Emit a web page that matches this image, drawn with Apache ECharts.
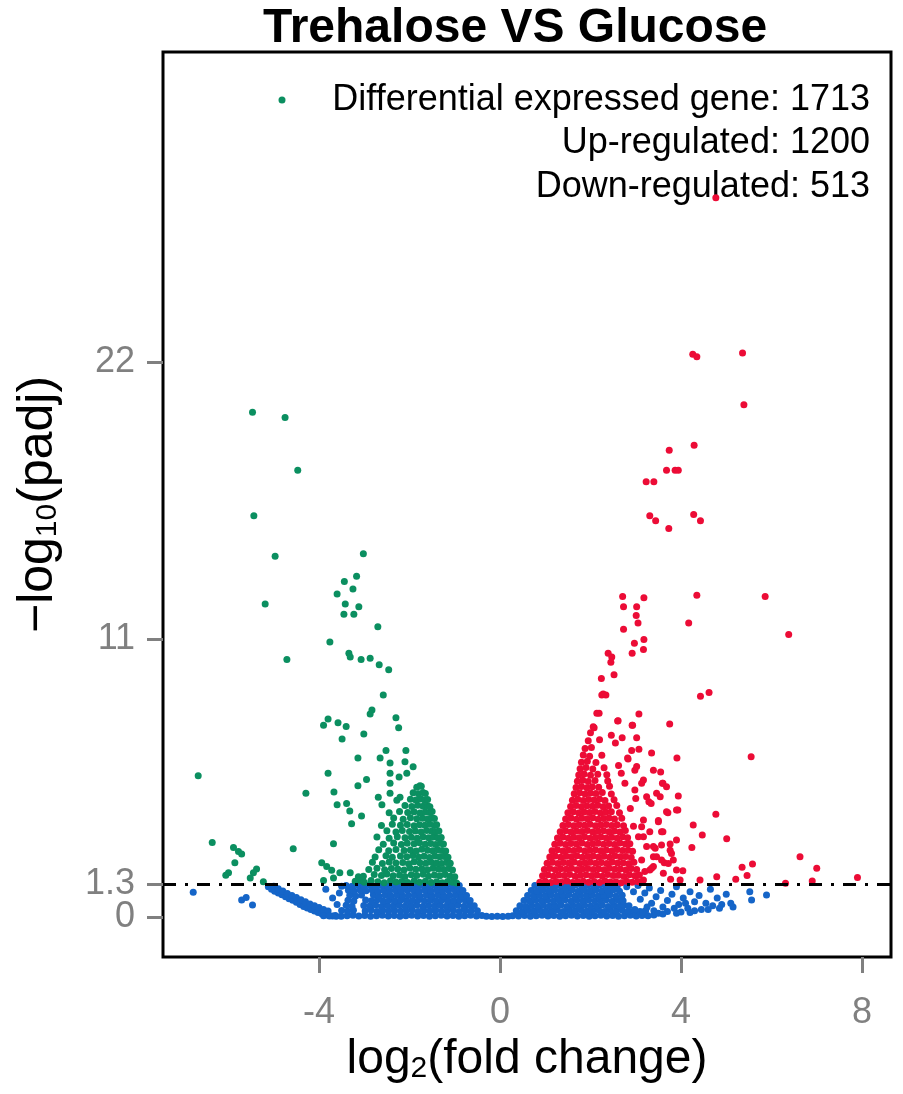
<!DOCTYPE html>
<html>
<head>
    <meta charset="UTF-8">
    <title>Trehalose VS Glucose</title>
    <script src="https://cdn.jsdelivr.net/npm/echarts/dist/echarts.min.js"></script>
    <style>
        html, body { margin: 0; padding: 0; background: #fff; }
        #volcano { width: 903px; height: 1094px; }
    </style>
</head>
<body>
    <div id="volcano"></div>

    <script>
        // 坐标轴刻度
        var xTicks = [-4, 0, 4, 8];
        var yTicks = [1.3, 11, 22];
        var yZeroTick = [0];
        var padjCut = 1.3;

        // 图例文字与计数
        var summaryLabels = ['Differential expressed gene', 'Up-regulated', 'Down-regulated'];
        var summaryCounts = [1713, 1200, 513];

        // 下调基因 (绿色) [log2FC, -log10(padj)]
        var downGenes = [
            [-5.47,20.0],[-4.75,19.8],[-4.47,17.7],[-5.44,15.9],[-4.97,14.3],[-3.02,14.4],[-3.17,13.5],[-3.44,13.3],
            [-3.25,13.0],[-3.60,12.8],[-5.19,12.4],[-3.42,12.4],[-3.12,12.3],[-3.45,12.0],[-3.23,12.0],[-2.70,11.5],
            [-3.76,10.9],[-3.34,10.45],[-4.71,10.2],[-3.31,10.3],[-3.07,10.2],[-2.87,10.25],[-2.67,10.0],[-2.46,9.8],
            [-2.58,8.8],[-2.83,8.2],[-2.87,8.05],[-3.80,7.85],[-3.90,7.6],[-3.58,7.7],[-3.40,7.55],[-2.30,7.9],
            [-2.24,7.5],[-3.01,7.25],[-3.49,7.05],[-3.14,6.3],[-2.65,6.3],[-2.52,6.6],[-2.08,6.6],[-2.43,6.1],
            [-2.10,6.15],[-1.92,5.95],[-6.67,5.6],[-3.80,5.7],[-2.43,5.7],[-2.23,5.55],[-2.06,5.7],[-2.95,5.45],
            [-3.14,5.2],[-2.43,5.3],[-1.77,5.2],[-4.29,4.9],[-3.67,4.95],[-2.69,4.75],[-2.43,4.9],[-2.21,4.75],
            [-3.60,4.45],[-3.39,4.5],[-3.32,4.2],[-2.61,4.45],[-3.06,4.0],[-3.28,3.7],[-3.68,2.9],[-4.57,2.7],
            [-6.36,2.95],[-5.89,2.75],[-5.78,2.6],[-5.71,2.5],[-5.86,2.15],[-6.0,1.75],[-6.06,1.65],[-5.38,1.9],
            [-5.45,1.75],[-5.52,1.55],[-5.23,1.4],[-3.94,2.15],[-3.83,2.0],[-3.72,1.85],[-3.54,1.75],[-3.31,1.75],
            [-3.13,1.6],[-3.90,1.45],[-3.68,1.55],[-3.09,1.45],
            [-3.2,1.42],[-3.0,1.38],[-2.85,1.45],[-2.7,1.4],[-2.56,1.36],[-2.42,1.44],[-2.3,1.39],[-2.17,1.41],
            [-2.04,1.37],[-1.9,1.43],[-1.78,1.38],[-1.65,1.42],[-1.52,1.37],[-1.4,1.4],[-1.28,1.36],[-1.16,1.41],
            [-1.05,1.38],[-0.96,1.35],
            [-3.02,1.62],[-2.78,1.68],[-2.62,1.64],[-2.5,1.7],[-2.36,1.63],[-2.22,1.66],[-2.1,1.61],[-1.96,1.67],
            [-1.84,1.64],[-1.7,1.69],[-1.58,1.62],[-1.45,1.66],[-1.33,1.63],[-1.21,1.68],[-1.1,1.62],[-1.0,1.6],
            [-2.9,1.88],[-2.72,1.93],[-2.55,1.87],[-2.4,1.92],[-2.26,1.9],[-2.12,1.86],[-1.99,1.94],[-1.86,1.89],
            [-1.73,1.91],[-1.6,1.87],[-1.48,1.93],[-1.36,1.9],[-1.24,1.88],[-1.13,1.92],[-1.05,1.86],
            [-2.82,2.17],[-2.6,2.12],[-2.45,2.18],[-2.3,2.14],[-2.15,2.16],[-2.02,2.11],[-1.9,2.19],[-1.77,2.15],
            [-1.64,2.13],[-1.52,2.17],[-1.4,2.14],[-1.29,2.12],[-1.18,2.16],[-1.1,2.13],
            [-2.76,2.38],[-2.52,2.43],[-2.38,2.37],[-2.2,2.42],[-2.06,2.39],[-1.93,2.44],[-1.8,2.38],[-1.68,2.41],
            [-1.56,2.36],[-1.44,2.42],[-1.33,2.39],[-1.23,2.4],[-1.15,2.37],
            [-2.68,2.67],[-2.46,2.63],[-2.3,2.68],[-2.12,2.64],[-1.98,2.66],[-1.85,2.62],[-1.73,2.69],[-1.6,2.65],
            [-1.49,2.63],[-1.38,2.67],[-1.28,2.64],[-1.2,2.62],
            [-2.58,2.88],[-2.35,2.93],[-2.18,2.87],[-2.05,2.92],[-1.9,2.9],[-1.78,2.94],[-1.65,2.88],[-1.53,2.91],
            [-1.42,2.87],[-1.32,2.92],[-1.25,2.89],
            [-2.72,3.17],[-2.45,3.12],[-2.27,3.18],[-2.1,3.14],[-1.96,3.16],[-1.83,3.12],[-1.7,3.18],[-1.58,3.14],
            [-1.47,3.17],[-1.37,3.13],[-1.3,3.15],
            [-2.5,3.42],[-2.3,3.37],[-2.16,3.43],[-2.0,3.39],[-1.87,3.41],[-1.74,3.37],[-1.62,3.43],[-1.51,3.4],
            [-1.42,3.38],[-1.35,3.41],
            [-2.62,3.63],[-2.38,3.68],[-2.2,3.64],[-2.05,3.67],[-1.9,3.62],[-1.78,3.66],[-1.66,3.64],[-1.55,3.68],
            [-1.45,3.63],[-1.4,3.66],
            [-2.35,3.92],[-2.14,3.87],[-1.98,3.93],[-1.84,3.89],[-1.71,3.91],[-1.6,3.88],[-1.5,3.92],[-1.45,3.9],
            [-2.45,4.13],[-2.22,4.18],[-2.04,4.14],[-1.9,4.17],[-1.77,4.12],[-1.65,4.16],[-1.55,4.14],[-1.5,4.18],
            [-2.1,4.42],[-1.95,4.38],[-1.82,4.43],[-1.7,4.39],[-1.6,4.41],[-1.55,4.37],
            [-2.28,4.63],[-1.98,4.67],[-1.86,4.64],[-1.75,4.68],[-1.66,4.63],[-1.6,4.66],
            [-1.92,4.92],[-1.8,4.88],[-1.7,4.93],[-1.65,4.89],
            [-1.84,5.14],[-1.74,5.18]
        ];

        // 上调基因 (红色)
        var upGenes = [
            [4.77,28.5],[4.26,22.3],[4.35,22.2],[5.36,22.35],[5.39,20.3],[4.29,18.7],[3.74,18.5],[3.68,17.7],
            [3.87,17.7],[3.94,17.7],[3.23,17.25],[3.40,17.25],[3.31,15.9],[3.44,15.7],[3.73,15.4],[4.28,15.95],
            [4.43,15.7],[2.71,12.7],[3.18,12.65],[4.35,12.75],[5.86,12.7],[2.73,12.3],[3.02,12.3],[3.01,11.95],
            [3.05,11.65],[4.17,11.65],[2.73,11.4],[6.38,11.2],[3.18,11.0],[2.97,10.85],[3.17,10.6],[2.92,10.45],
            [2.39,10.45],[2.47,10.3],[2.45,10.1],[2.24,9.45],[2.52,9.6],[2.25,8.8],[2.34,8.8],[4.43,8.75],
            [4.62,8.9],[3.07,8.05],[3.75,7.65],[2.19,8.07],[2.60,7.77],[2.93,7.6],[2.08,7.5],[5.55,6.35],
            [3.35,6.5],[3.91,6.3],[3.07,6.65],[3.02,7.1],[2.82,6.3],[3.55,5.75],[3.60,5.3],[3.94,4.8],
            [4.77,4.07],[4.27,3.65],[4.47,3.25],[5.01,3.1],[4.24,2.75],[3.90,3.05],[3.50,3.77],[3.71,4.13],
            [3.93,4.24],[3.60,3.38],[6.63,2.39],[7.0,1.93],[7.90,1.57],[5.58,2.1],[5.35,1.97],[5.46,1.64],
            [5.21,1.5],[6.31,1.34],[6.90,1.43],[4.04,1.83],[3.77,1.5],[3.83,2.26],[3.63,2.15],[3.43,2.72],
            [3.76,2.65],[3.31,1.86],[3.17,1.47],
            [2.92,7.6],[2.61,7.78],[2.83,6.26],[2.98,5.82],[3.17,5.43],[2.98,5.03],[3.59,5.3],[3.54,4.77],
            [3.29,4.57],[3.68,4.17],[3.90,4.24],[3.50,3.82],[3.13,3.58],[3.57,3.38],[3.17,3.18],[3.39,2.79],
            [3.57,2.85],[3.76,2.89],[3.79,2.52],[3.57,2.26],[3.72,2.12],[3.39,2.39],[3.20,1.8],[3.39,2.0],
            [3.90,1.86],[3.13,1.4],
            [3.34,4.5],[3.24,4.77],[3.13,5.3],[3.02,5.96],[2.91,6.6],[3.39,5.82],[3.68,5.16],[3.46,4.9],
            [3.17,3.84],[3.31,3.38],[3.06,3.18],[3.24,2.79],[3.46,2.39],[3.13,2.26],[3.35,1.93],[3.61,1.73],
            [3.98,1.47],[4.42,1.47],[4.79,1.6],[2.88,4.3],[2.95,3.6],[3.0,4.7],[2.76,5.3],[2.68,5.7],
            [2.62,6.0],[2.55,6.9],[2.46,7.2],[2.7,7.1],
            [2.06,7.54],[2.14,8.07],[2.28,8.84],
            [0.88,1.38],[1.0,1.42],[1.12,1.37],[1.24,1.41],[1.36,1.39],[1.48,1.43],[1.6,1.37],[1.72,1.4],
            [1.84,1.42],[1.96,1.38],[2.08,1.41],[2.2,1.37],[2.32,1.43],[2.44,1.39],[2.56,1.4],[2.68,1.36],
            [2.8,1.42],[2.92,1.38],[3.04,1.41],[3.12,1.37],
            [0.94,1.63],[1.06,1.67],[1.18,1.62],[1.3,1.66],[1.42,1.64],[1.54,1.68],[1.66,1.62],[1.78,1.65],
            [1.9,1.67],[2.02,1.63],[2.14,1.66],[2.26,1.62],[2.38,1.68],[2.5,1.64],[2.62,1.65],[2.74,1.61],
            [2.86,1.67],[2.98,1.63],[3.08,1.66],
            [0.98,1.88],[1.1,1.92],[1.22,1.87],[1.34,1.91],[1.46,1.89],[1.58,1.93],[1.7,1.87],[1.82,1.9],
            [1.94,1.92],[2.06,1.88],[2.18,1.91],[2.3,1.87],[2.42,1.93],[2.54,1.89],[2.66,1.9],[2.78,1.86],
            [2.9,1.92],[3.02,1.88],
            [1.04,2.13],[1.16,2.17],[1.28,2.12],[1.4,2.16],[1.52,2.14],[1.64,2.18],[1.76,2.12],[1.88,2.15],
            [2.0,2.17],[2.12,2.13],[2.24,2.16],[2.36,2.12],[2.48,2.18],[2.6,2.14],[2.72,2.15],[2.84,2.11],[2.96,2.17],
            [1.1,2.38],[1.22,2.42],[1.34,2.37],[1.46,2.41],[1.58,2.39],[1.7,2.43],[1.82,2.37],[1.94,2.4],
            [2.06,2.42],[2.18,2.38],[2.3,2.41],[2.42,2.37],[2.54,2.43],[2.66,2.39],[2.78,2.4],[2.9,2.36],
            [1.15,2.63],[1.27,2.67],[1.39,2.62],[1.51,2.66],[1.63,2.64],[1.75,2.68],[1.87,2.62],[1.99,2.65],
            [2.11,2.67],[2.23,2.63],[2.35,2.66],[2.47,2.62],[2.59,2.68],[2.71,2.64],[2.83,2.65],[2.93,2.61],
            [1.21,2.88],[1.33,2.92],[1.45,2.87],[1.57,2.91],[1.69,2.89],[1.81,2.93],[1.93,2.87],[2.05,2.9],
            [2.17,2.92],[2.29,2.88],[2.41,2.91],[2.53,2.87],[2.65,2.93],[2.77,2.89],[2.87,2.9],
            [1.27,3.13],[1.39,3.17],[1.51,3.12],[1.63,3.16],[1.75,3.14],[1.87,3.18],[1.99,3.12],[2.11,3.15],
            [2.23,3.17],[2.35,3.13],[2.47,3.16],[2.59,3.12],[2.71,3.18],[2.82,3.14],
            [1.33,3.38],[1.45,3.42],[1.57,3.37],[1.69,3.41],[1.81,3.39],[1.93,3.43],[2.05,3.37],[2.17,3.4],
            [2.29,3.42],[2.41,3.38],[2.53,3.41],[2.65,3.37],[2.77,3.43],
            [1.39,3.63],[1.51,3.67],[1.63,3.62],[1.75,3.66],[1.87,3.64],[1.99,3.68],[2.11,3.62],[2.23,3.65],
            [2.35,3.67],[2.47,3.63],[2.59,3.66],[2.73,3.62],
            [1.45,3.88],[1.57,3.92],[1.69,3.87],[1.81,3.91],[1.93,3.89],[2.05,3.93],[2.17,3.87],[2.29,3.9],
            [2.41,3.92],[2.53,3.88],[2.69,3.91],
            [1.5,4.13],[1.62,4.17],[1.74,4.12],[1.86,4.16],[1.98,4.14],[2.1,4.18],[2.22,4.12],[2.34,4.15],
            [2.46,4.17],[2.64,4.13],
            [1.56,4.38],[1.68,4.42],[1.8,4.37],[1.92,4.41],[2.04,4.39],[2.16,4.43],[2.28,4.37],[2.4,4.4],[2.58,4.42],
            [1.6,4.63],[1.72,4.67],[1.84,4.62],[1.96,4.66],[2.08,4.64],[2.2,4.68],[2.32,4.62],[2.52,4.65],
            [1.64,4.88],[1.76,4.92],[1.88,4.87],[2.0,4.91],[2.12,4.89],[2.26,4.93],[2.46,4.87],
            [1.68,5.13],[1.8,5.17],[1.92,5.12],[2.04,5.16],[2.18,5.14],[2.42,5.18],
            [1.71,5.38],[1.83,5.42],[1.95,5.37],[2.1,5.41],[2.38,5.39],
            [1.74,5.63],[1.86,5.67],[2.0,5.62],[2.16,5.66],[2.36,5.64],
            [1.77,5.88],[1.9,5.92],[2.05,5.87],[2.3,5.91],
            [1.8,6.13],[1.93,6.17],[2.12,6.12],
            [1.84,6.42],[1.98,6.37],[2.25,6.41],
            [1.88,6.68],[2.02,6.72],[1.95,6.98],[2.2,7.02],[2.0,7.3]
        ];

        // 无显著差异 (蓝色)
        var otherGenes = [
            [-6.78,0.98],[-5.71,0.67],[-5.61,0.77],[-5.47,0.48],
            [-5.12,1.2],[-5.05,1.1],[-4.98,1.02],[-4.9,0.95],[-4.82,0.88],[-4.74,0.8],[-4.66,0.72],[-4.58,0.66],
            [-4.5,0.58],[-4.42,0.5],[-4.34,0.42],[-4.26,0.36],[-4.18,0.3],[-4.1,0.24],[-4.02,0.18],[-3.94,0.13],
            [-3.86,0.09],[-3.78,0.06],[-3.7,0.04],[-3.62,0.03],
            [-5.0,1.22],[-4.9,1.12],[-4.8,1.03],[-4.7,0.93],[-4.6,0.85],[-4.5,0.77],[-4.4,0.68],[-4.3,0.6],
            [-4.2,0.52],[-4.1,0.45],[-4.0,0.38],[-3.9,0.3],[-3.8,0.24],
            [-3.85,1.1],[-3.7,0.75],[-3.55,0.95],[-3.6,0.5],[-3.5,1.22],
            [-3.9,0.05],[-3.77,0.04],[-3.64,0.06],[-3.51,0.03],[-3.38,0.05],[-3.25,0.07],[-3.12,0.04],[-2.99,0.06],
            [-2.86,0.03],[-2.73,0.05],[-2.6,0.07],[-2.47,0.04],[-2.34,0.06],[-2.21,0.03],[-2.08,0.05],[-1.95,0.07],
            [-1.82,0.04],[-1.69,0.06],[-1.56,0.03],[-1.43,0.05],[-1.3,0.07],[-1.17,0.04],[-1.04,0.06],[-0.91,0.03],
            [-0.78,0.05],[-0.65,0.07],[-0.52,0.04],[-0.4,0.06],
            [-3.5,0.26],[-3.37,0.23],[-3.24,0.27],[-2.98,0.24],[-2.85,0.28],[-2.72,0.22],[-2.59,0.26],
            [-2.46,0.24],[-2.33,0.27],[-2.2,0.23],[-2.07,0.25],[-1.94,0.28],[-1.81,0.22],[-1.68,0.26],[-1.55,0.24],
            [-1.42,0.27],[-1.29,0.23],[-1.16,0.25],[-1.03,0.28],[-0.9,0.22],[-0.77,0.26],[-0.64,0.24],[-0.5,0.25],
            [-3.4,0.47],[-3.27,0.43],[-3.01,0.46],[-2.88,0.44],[-2.75,0.48],[-2.62,0.42],[-2.49,0.46],
            [-2.36,0.44],[-2.23,0.47],[-2.1,0.43],[-1.97,0.45],[-1.84,0.48],[-1.71,0.42],[-1.58,0.46],[-1.45,0.44],
            [-1.32,0.47],[-1.19,0.43],[-1.06,0.45],[-0.93,0.48],[-0.8,0.42],[-0.67,0.46],[-0.57,0.45],
            [-3.36,0.66],[-3.23,0.63],[-2.97,0.67],[-2.84,0.64],[-2.71,0.68],[-2.58,0.62],[-2.45,0.66],[-2.32,0.64],
            [-2.19,0.67],[-2.06,0.63],[-1.93,0.65],[-1.8,0.68],[-1.67,0.62],[-1.54,0.66],[-1.41,0.64],[-1.28,0.67],
            [-1.15,0.63],[-1.02,0.65],[-0.89,0.68],[-0.76,0.62],[-0.66,0.65],
            [-3.32,0.86],[-3.19,0.83],[-3.06,0.87],[-2.8,0.88],[-2.67,0.82],[-2.54,0.86],[-2.41,0.84],
            [-2.28,0.87],[-2.15,0.83],[-2.02,0.85],[-1.89,0.88],[-1.76,0.82],[-1.63,0.86],[-1.5,0.84],[-1.37,0.87],
            [-1.24,0.83],[-1.11,0.85],[-0.98,0.88],[-0.85,0.82],[-0.74,0.85],
            [-3.35,1.06],[-3.22,1.03],[-3.09,1.07],[-2.96,1.04],[-2.83,1.08],[-2.7,1.02],[-2.57,1.06],[-2.44,1.04],
            [-2.31,1.07],[-2.18,1.03],[-2.05,1.05],[-1.92,1.08],[-1.79,1.02],[-1.66,1.06],[-1.53,1.04],[-1.4,1.07],
            [-1.27,1.03],[-1.14,1.05],[-1.01,1.08],[-0.88,1.02],[-0.82,1.05],
            [-3.4,1.25],[-3.27,1.22],[-3.14,1.26],[-3.01,1.23],[-2.88,1.27],[-2.75,1.21],[-2.62,1.25],[-2.49,1.23],
            [-2.36,1.26],[-2.23,1.22],[-2.1,1.24],[-1.97,1.27],[-1.84,1.21],[-1.71,1.25],[-1.58,1.23],[-1.45,1.26],
            [-1.32,1.22],[-1.19,1.24],[-1.06,1.27],[-0.95,1.22],[-0.9,1.25],
            [-0.3,0.03],[-0.18,0.02],[-0.06,0.03],[0.06,0.02],[0.18,0.03],
            [0.28,0.05],[0.41,0.04],[0.54,0.06],[0.67,0.03],[0.8,0.05],[0.93,0.07],[1.06,0.04],[1.19,0.06],
            [1.32,0.03],[1.45,0.05],[1.58,0.07],[1.71,0.04],[1.84,0.06],[1.97,0.03],[2.1,0.05],[2.23,0.07],
            [2.36,0.04],[2.49,0.06],[2.62,0.03],[2.75,0.05],[2.88,0.07],[3.01,0.04],[3.14,0.06],[3.27,0.05],[3.4,0.08],
            [0.36,0.25],[0.49,0.22],[0.62,0.26],[0.75,0.24],[0.88,0.27],[1.01,0.23],[1.14,0.25],[1.27,0.28],
            [1.4,0.22],[1.53,0.26],[1.66,0.24],[1.79,0.27],[1.92,0.23],[2.05,0.25],[2.18,0.28],[2.31,0.22],
            [2.44,0.26],[2.57,0.24],[2.7,0.27],[2.83,0.23],[2.96,0.25],[3.09,0.22],[3.22,0.26],
            [0.44,0.45],[0.57,0.42],[0.7,0.46],[0.83,0.44],[0.96,0.47],[1.09,0.43],[1.22,0.45],[1.35,0.48],
            [1.48,0.42],[1.61,0.46],[1.74,0.44],[1.87,0.47],[2.0,0.43],[2.13,0.45],[2.26,0.48],[2.39,0.42],
            [2.52,0.46],[2.65,0.44],[2.74,0.47],
            [0.53,0.65],[0.66,0.62],[0.79,0.66],[0.92,0.64],[1.05,0.67],[1.18,0.63],[1.31,0.65],[1.44,0.68],
            [1.57,0.62],[1.7,0.66],[1.83,0.64],[1.96,0.67],[2.09,0.63],[2.22,0.65],[2.35,0.68],[2.48,0.62],
            [2.61,0.66],[2.72,0.64],
            [0.61,0.85],[0.74,0.82],[0.87,0.86],[1.0,0.84],[1.13,0.87],[1.26,0.83],[1.39,0.85],[1.52,0.88],
            [1.65,0.82],[1.78,0.86],[1.91,0.84],[2.04,0.87],[2.17,0.83],[2.3,0.85],[2.43,0.88],[2.56,0.82],[2.7,0.86],
            [0.69,1.05],[0.82,1.02],[0.95,1.06],[1.08,1.04],[1.21,1.07],[1.34,1.03],[1.47,1.05],[1.6,1.08],
            [1.73,1.02],[1.86,1.06],[1.99,1.04],[2.12,1.07],[2.25,1.03],[2.38,1.05],[2.51,1.08],[2.64,1.02],
            [0.77,1.25],[0.9,1.22],[1.03,1.26],[1.16,1.24],[1.29,1.27],[1.42,1.23],[1.55,1.25],[1.68,1.28],
            [1.81,1.22],[1.94,1.26],[2.07,1.24],[2.2,1.27],[2.33,1.23],[2.46,1.25],[2.59,1.22],
            [2.8,1.2],[2.95,1.0],[3.05,1.25],[3.1,0.7],[3.2,0.95],[3.3,1.15],[3.35,0.55],[3.45,0.8],
            [3.55,1.05],[3.6,0.4],[3.7,0.65],[3.8,0.9],[3.9,1.2],[3.95,0.5],[4.05,0.75],[4.15,0.35],
            [4.2,1.0],[4.3,0.6],[4.4,0.85],[4.45,0.3],[4.55,0.55],[4.65,1.1],[4.7,0.45],[4.8,0.75],
            [4.9,0.5],[5.0,0.9],[5.1,0.55],[5.15,0.4],[5.52,1.0],[5.56,0.67],[5.89,0.87],
            [2.85,0.45],[2.98,0.3],[3.15,0.2],[3.4,0.25],[3.7,0.22],[4.0,0.2],[4.3,0.25],[4.6,0.3],
            [4.85,0.35],[3.25,0.4],[3.5,0.15],[3.85,0.35],[4.1,0.55],[3.6,0.12],[3.9,0.15],[4.2,0.18]
        ];

        var DOWN_COLOR = '#0b8f60';
        var UP_COLOR = '#ec0c36';
        var OTHER_COLOR = '#1565c8';
        var FONT = 'Liberation Sans';
        var Y_MIN = -1.585, Y_MAX = 34.28;

        var chart = echarts.init(document.getElementById('volcano'));

        var tickStyle = { color: '#808080', width: 3 };
        var tickLabelStyle = { fontSize: 36, color: '#808080', fontFamily: FONT };

        var option = {
            animation: false,
            title: {
                text: 'Trehalose VS Glucose',
                left: 258,
                top: 0,
                textStyle: { fontSize: 48, fontWeight: 'bold', color: '#000', fontFamily: FONT }
            },
            grid: {
                left: 163, top: 52, right: 12, bottom: 137,
                show: true, borderColor: '#000', borderWidth: 3
            },
            xAxis: {
                type: 'value',
                min: -7.448, max: 8.641,
                axisLine: { show: false, onZero: false },
                splitLine: { show: false },
                axisTick: { show: true, customValues: xTicks, length: 16, lineStyle: tickStyle },
                axisLabel: Object.assign({ customValues: xTicks, margin: 38 }, tickLabelStyle),
                name: 'log{sub|2}(fold change)',
                nameLocation: 'middle',
                nameGap: 78,
                nameTextStyle: {
                    fontSize: 48, color: '#000', fontFamily: FONT,
                    rich: { sub: { fontSize: 30, fontFamily: FONT, color: '#000', verticalAlign: 'bottom' } }
                }
            },
            yAxis: [
                {
                    type: 'value',
                    min: Y_MIN, max: Y_MAX,
                    axisLine: { show: false, onZero: false },
                    splitLine: { show: false },
                    axisTick: { show: true, customValues: yTicks, length: 16, lineStyle: tickStyle },
                    axisLabel: Object.assign({ customValues: yTicks, margin: 28 }, tickLabelStyle),
                    name: '\u2212log{sub|10}(padj)',
                    nameLocation: 'middle',
                    nameRotate: 90,
                    nameGap: 100,
                    nameTextStyle: {
                        fontSize: 50, color: '#000', fontFamily: FONT,
                        rich: { sub: { fontSize: 30, fontFamily: FONT, color: '#000', verticalAlign: 'bottom' } }
                    }
                },
                {
                    // 0 刻度单独一根轴 (与 1.3 太近)
                    type: 'value', position: 'left',
                    min: Y_MIN, max: Y_MAX,
                    axisLine: { show: false, onZero: false },
                    splitLine: { show: false },
                    axisTick: { show: true, customValues: yZeroTick, length: 16, lineStyle: tickStyle },
                    axisLabel: Object.assign({ customValues: yZeroTick, margin: 28 }, tickLabelStyle)
                }
            ],
            graphic: [
                { type: 'circle', shape: { cx: 282, cy: 100, r: 3.5 }, style: { fill: DOWN_COLOR } },
                { type: 'text', x: 870, y: 100, style: { text: summaryLabels[0] + ': ' + summaryCounts[0], align: 'right', verticalAlign: 'middle', fontSize: 36, fontFamily: FONT, fill: '#000' } },
                { type: 'text', x: 870, y: 143, style: { text: summaryLabels[1] + ': ' + summaryCounts[1], align: 'right', verticalAlign: 'middle', fontSize: 36, fontFamily: FONT, fill: '#000' } },
                { type: 'text', x: 870, y: 187, style: { text: summaryLabels[2] + ': ' + summaryCounts[2], align: 'right', verticalAlign: 'middle', fontSize: 36, fontFamily: FONT, fill: '#000' } }
            ],
            series: [
                {
                    name: 'not significant', type: 'scatter', symbolSize: 7,
                    itemStyle: { color: OTHER_COLOR, opacity: 1 }, data: otherGenes
                },
                {
                    name: 'down', type: 'scatter', symbolSize: 7,
                    itemStyle: { color: DOWN_COLOR, opacity: 1 }, data: downGenes
                },
                {
                    name: 'up', type: 'scatter', symbolSize: 7,
                    itemStyle: { color: UP_COLOR, opacity: 1 }, data: upGenes
                },
                {
                    // padj 阈值线
                    name: 'threshold', type: 'scatter', data: [], z: 10,
                    markLine: {
                        silent: true, symbol: 'none', label: { show: false },
                        lineStyle: { color: '#000', width: 3, type: [13, 9, 3, 9] },
                        data: [{ yAxis: padjCut }]
                    }
                }
            ]
        };

        chart.setOption(option);
    </script>
</body>
</html>
